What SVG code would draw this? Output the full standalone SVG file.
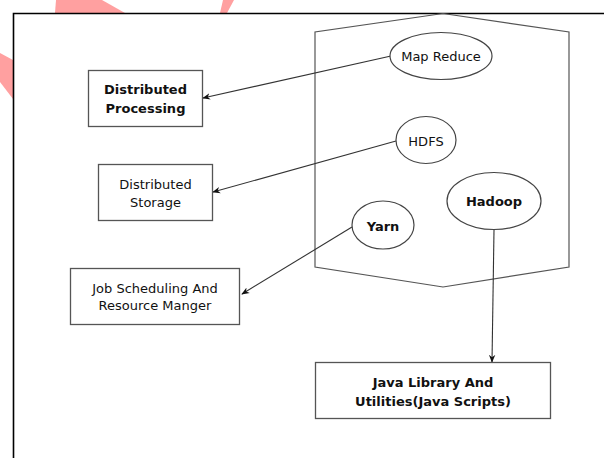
<svg xmlns="http://www.w3.org/2000/svg" width="604" height="458" viewBox="0 0 604 458">
  <style>
    .box { fill: #ffffff; stroke: #555555; stroke-width: 1.3; }
    .oval { fill: #ffffff; stroke: #444444; stroke-width: 1.2; }
    .edge { fill: none; stroke: #333333; stroke-width: 1.1; marker-end: url(#arrow); }
    .label { font-family: "DejaVu Sans", sans-serif; font-size: 13px; fill: #111111; text-anchor: middle; }
    .bold { font-weight: bold; }
    .decor { fill: #ffa0a0; }
  </style>
  <defs>
    <marker id="arrow" viewBox="0 0 10 10" refX="9" refY="5" markerWidth="8" markerHeight="8" markerUnits="userSpaceOnUse" orient="auto">
      <path d="M0,1 L10,5 L0,9 L3,5 Z" fill="#111111"/>
    </marker>
  </defs>

  <rect width="604" height="458" fill="#ffffff"/>

  <!-- decorative shapes peeking out around the frame -->
  <polygon class="decor" points="56,0 102,0 125,13 55,13"/>
  <polygon class="decor" points="223,0 234,0 227,13 220,13"/>
  <polygon class="decor" points="0,53 13,60 13,99 0,82"/>

  <!-- page frame -->
  <path d="M13.5,458 L13.5,13.5 L604,13.5" fill="none" stroke="#000000" stroke-width="1.6"/>

  <!-- Hadoop ecosystem enclosure -->
  <polygon id="ecosystem" points="443,13.5 569,32 569,267 443,287 315,267 315,32" fill="none" stroke="#555555" stroke-width="1.2"/>

  <g id="connectors">
    <path class="edge" d="M391,56 L203,98"/>
    <path class="edge" d="M396,141 L213,192"/>
    <path class="edge" d="M352,227 L242,294"/>
    <path class="edge" d="M494,230 L492,362"/>
  </g>

  <g id="map-reduce">
    <ellipse class="oval" cx="441" cy="56" rx="51" ry="23.5"/>
    <text class="label" x="441" y="61">Map Reduce</text>
  </g>

  <g id="hdfs">
    <ellipse class="oval" cx="426" cy="140" rx="30" ry="23.5"/>
    <text class="label" x="426" y="146">HDFS</text>
  </g>

  <g id="hadoop">
    <ellipse class="oval" cx="494" cy="201" rx="47" ry="28.5"/>
    <text class="label bold" x="494" y="206">Hadoop</text>
  </g>

  <g id="yarn">
    <ellipse class="oval" cx="383" cy="225" rx="31" ry="24"/>
    <text class="label bold" x="383" y="231">Yarn</text>
  </g>

  <g id="distributed-processing">
    <rect class="box" x="88.5" y="70.5" width="114" height="56"/>
    <text class="label bold" x="145.5" y="94">Distributed</text>
    <text class="label bold" x="145.5" y="113">Processing</text>
  </g>

  <g id="distributed-storage">
    <rect class="box" x="98.5" y="164.5" width="114" height="56"/>
    <text class="label" x="155.5" y="189">Distributed</text>
    <text class="label" x="155.5" y="207">Storage</text>
  </g>

  <g id="job-scheduling">
    <rect class="box" x="70.5" y="268.5" width="169" height="56"/>
    <text class="label" x="155" y="293">Job Scheduling And</text>
    <text class="label" x="155" y="310">Resource Manger</text>
  </g>

  <g id="java-library">
    <rect class="box" x="315.5" y="362.5" width="235" height="56"/>
    <text class="label bold" x="433" y="387">Java Library And</text>
    <text class="label bold" x="433" y="406">Utilities(Java Scripts)</text>
  </g>
</svg>
